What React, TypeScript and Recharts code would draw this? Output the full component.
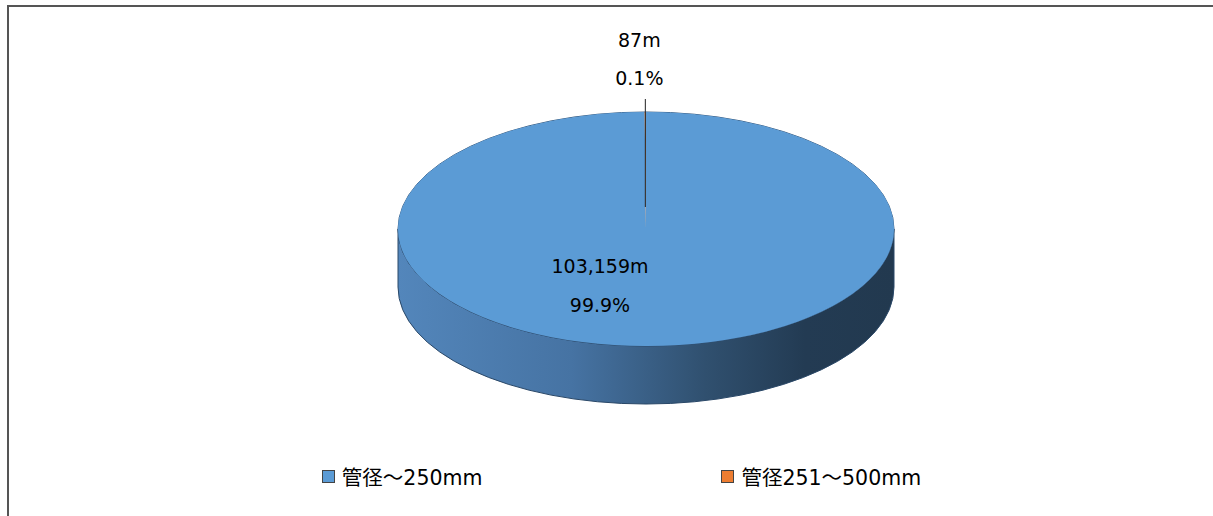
import { Cell, Customized, Legend, Pie, PieChart } from 'recharts'

const names = ['管径～250mm', '管径251～500mm']
const lengths = [103159, 87]
const colors = ['#5b9bd5', '#ed7d31']

const data = names.map((name, i) => ({ name, value: lengths[i] }))

const W = 1213
const H = 516
const CX = 646
const CY = 229
const RX = 248
const RY = 117
const DEPTH = 58
const FONT = '"DejaVu Sans", Verdana, "Noto Sans CJK JP", sans-serif'

function SideWall() {
  const l = CX - RX
  const r = CX + RX
  const d = `M${l},${CY} L${l},${CY + DEPTH} A${RX},${RY} 0 0 0 ${r},${CY + DEPTH} L${r},${CY} A${RX},${RY} 0 0 1 ${l},${CY} Z`
  return (
    <g>
      <defs>
        <linearGradient id="wall" x1="0" x2="1" y1="0" y2="0">
          <stop offset="0%" stopColor="#5386bb" />
          <stop offset="35%" stopColor="#4673a3" />
          <stop offset="62%" stopColor="#30506f" />
          <stop offset="82%" stopColor="#233b53" />
          <stop offset="100%" stopColor="#22394f" />
        </linearGradient>
      </defs>
      <path d={d} fill="url(#wall)" stroke="#2a4868" strokeWidth={1} />
    </g>
  )
}

function TopOutline() {
  return <ellipse cx={CX} cy={CY} rx={RX} ry={RY} fill="none" stroke="#34587e" strokeWidth={1} />
}

function renderLabel(props: any) {
  const { index, value, percent, midAngle } = props
  const pct = (percent * 100).toFixed(1) + '%'
  const txt = value.toLocaleString('en-US') + 'm'
  const style = { fontFamily: FONT, fontSize: 19, fill: '#000' }
  if (index === 0) {
    return (
      <g>
        <text x={CX - 46} y={273} textAnchor="middle" style={style}>{txt}</text>
        <text x={CX - 46} y={312} textAnchor="middle" style={style}>{pct}</text>
      </g>
    )
  }
  const rad = (midAngle * Math.PI) / 180
  const ex = CX + RX * Math.cos(rad)
  const ey = CY - RY * Math.sin(rad)
  return (
    <g>
      <text x={ex - 6} y={ey - 65} textAnchor="middle" style={style}>{txt}</text>
      <text x={ex - 6} y={ey - 27} textAnchor="middle" style={style}>{pct}</text>
      <line x1={ex} y1={ey - 13} x2={ex} y2={ey + 95} stroke="#222" strokeWidth={1} />
    </g>
  )
}

function LegendContent() {
  return (
    <div style={{ display: 'flex', justifyContent: 'center', gap: 239, fontFamily: FONT, fontSize: 20.5, color: '#000' }}>
      {names.map((n, i) => (
        <div key={n} style={{ display: 'flex', alignItems: 'center' }}>
          <span style={{ display: 'inline-block', width: 11, height: 11, background: colors[i], border: '1px solid #444', marginRight: 7 }} />
          <span>{n}</span>
        </div>
      ))}
    </div>
  )
}

export default function App() {
  return (
    <div style={{ position: 'absolute', left: 0, top: 0, width: W, height: H, background: '#fff', overflow: 'hidden' }}>
      <style>{`.recharts-pie .recharts-sector { transform-origin: ${CX}px ${CY}px; transform: scaleY(${RY / RX}); }`}</style>
      <div style={{ position: 'absolute', left: 7, top: 5, width: W + 20, height: H + 20, borderLeft: '2px solid #555', borderTop: '2px solid #555' }} />
      <div style={{ position: 'absolute', left: 0, top: 0 }}>
        <PieChart width={W} height={H} margin={{ top: 0, right: 0, bottom: 0, left: 0 }}>
          <Customized component={SideWall} />
          <Pie
            data={data}
            dataKey="value"
            nameKey="name"
            cx={CX}
            cy={CY}
            outerRadius={RX}
            startAngle={90}
            endAngle={-270}
            stroke="none"
            label={renderLabel}
            labelLine={false}
            isAnimationActive={false}
          >
            {data.map((d, i) => (
              <Cell key={d.name} fill={colors[i]} />
            ))}
          </Pie>
          <Customized component={TopOutline} />
          <Legend
            verticalAlign="bottom"
            content={<LegendContent />}
            wrapperStyle={{ position: 'absolute', top: 461, left: 22, width: W - 14 }}
          />
        </PieChart>
      </div>
    </div>
  )
}
